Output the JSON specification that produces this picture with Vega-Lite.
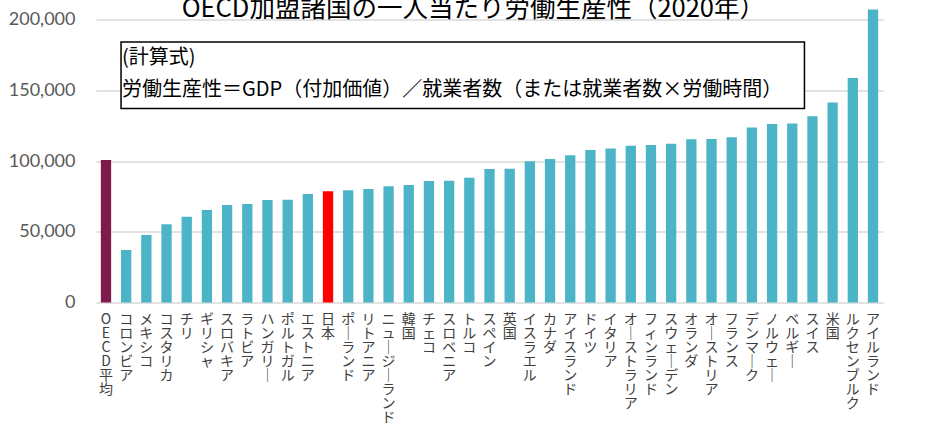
{
  "$schema": "https://vega.github.io/schema/vega-lite/v6.json",
  "autosize": {"type": "none"},
  "width": 787,
  "height": 283,
  "padding": {"left": 96, "top": 19.5, "right": 64, "bottom": 122.5},
  "background": "white",
  "config": {
    "view": {"stroke": null}
  },
  "data": {
    "values": [
      {"国": "OECD平均", "労働生産性": 100700, "区分": "OECD平均"},
      {"国": "コロンビア", "労働生産性": 37100, "区分": "その他"},
      {"国": "メキシコ", "労働生産性": 47700, "区分": "その他"},
      {"国": "コスタリカ", "労働生産性": 55300, "区分": "その他"},
      {"国": "チリ", "労働生産性": 60600, "区分": "その他"},
      {"国": "ギリシャ", "労働生産性": 65400, "区分": "その他"},
      {"国": "スロバキア", "労働生産性": 68900, "区分": "その他"},
      {"国": "ラトビア", "労働生産性": 69600, "区分": "その他"},
      {"国": "ハンガリー", "労働生産性": 72400, "区分": "その他"},
      {"国": "ポルトガル", "労働生産性": 72700, "区分": "その他"},
      {"国": "エストニア", "労働生産性": 76700, "区分": "その他"},
      {"国": "日本", "労働生産性": 78700, "区分": "日本"},
      {"国": "ポーランド", "労働生産性": 79300, "区分": "その他"},
      {"国": "リトアニア", "労働生産性": 80200, "区分": "その他"},
      {"国": "ニュージーランド", "労働生産性": 82100, "区分": "その他"},
      {"国": "韓国", "労働生産性": 83000, "区分": "その他"},
      {"国": "チェコ", "労働生産性": 85900, "区分": "その他"},
      {"国": "スロベニア", "労働生産性": 86100, "区分": "その他"},
      {"国": "トルコ", "労働生産性": 88200, "区分": "その他"},
      {"国": "スペイン", "労働生産性": 94300, "区分": "その他"},
      {"国": "英国", "労働生産性": 94600, "区分": "その他"},
      {"国": "イスラエル", "労働生産性": 99800, "区分": "その他"},
      {"国": "カナダ", "労働生産性": 101400, "区分": "その他"},
      {"国": "アイスランド", "労働生産性": 104000, "区分": "その他"},
      {"国": "ドイツ", "労働生産性": 107700, "区分": "その他"},
      {"国": "イタリア", "労働生産性": 108900, "区分": "その他"},
      {"国": "オーストラリア", "労働生産性": 110800, "区分": "その他"},
      {"国": "フィンランド", "労働生産性": 111300, "区分": "その他"},
      {"国": "スウェーデン", "労働生産性": 112200, "区分": "その他"},
      {"国": "オランダ", "労働生産性": 115300, "区分": "その他"},
      {"国": "オーストリア", "労働生産性": 115500, "区分": "その他"},
      {"国": "フランス", "労働生産性": 116700, "区分": "その他"},
      {"国": "デンマーク", "労働生産性": 123700, "区分": "その他"},
      {"国": "ノルウェー", "労働生産性": 126100, "区分": "その他"},
      {"国": "ベルギー", "労働生産性": 126500, "区分": "その他"},
      {"国": "スイス", "労働生産性": 131700, "区分": "その他"},
      {"国": "米国", "労働生産性": 141300, "区分": "その他"},
      {"国": "ルクセンブルク", "労働生産性": 158700, "区分": "その他"},
      {"国": "アイルランド", "労働生産性": 207000, "区分": "その他"}
    ]
  },
  "encoding": {
    "x": {
      "field": "国",
      "type": "nominal",
      "sort": null,
      "scale": {"paddingInner": 0.49, "paddingOuter": 0.24},
      "axis": {
        "title": null,
        "domain": false,
        "ticks": false,
        "labelAngle": 0,
        "labelAlign": "center",
        "labelBaseline": "top",
        "labelPadding": 10,
        "labelFont": "Noto Sans CJK JP",
        "labelFontSize": 14,
        "labelLineHeight": 14,
        "labelColor": "#404040",
        "labelOverlap": false,
        "labelBound": false,
        "labelLimit": 0,
        "labelExpr": "split(replace(datum.label, regexp('ー','g'), '｜'), '')"
      }
    },
    "y": {
      "type": "quantitative",
      "scale": {"domain": [0, 200000], "nice": false},
      "axis": {
        "title": null,
        "values": [0, 50000, 100000, 150000, 200000],
        "format": ",d",
        "domain": false,
        "ticks": false,
        "labelPadding": 21,
        "labelFont": "Lato",
        "labelFontSize": 18,
        "labelColor": "#595959",
        "gridColor": "#D9D9D9",
        "gridWidth": 1.5
      }
    }
  },
  "layer": [
    {
      "mark": {"type": "bar"},
      "encoding": {
        "y": {"field": "労働生産性", "type": "quantitative"},
        "color": {
          "field": "区分",
          "type": "nominal",
          "scale": {"domain": ["OECD平均", "日本", "その他"], "range": ["#7E1B4A", "#FF0000", "#4BB4C6"]},
          "legend": null
        }
      }
    },
    {
      "data": {"values": [{"note": "タイトル"}]},
      "mark": {
        "type": "text",
        "text": "OECD加盟諸国の一人当たり労働生産性（2020年）",
        "align": "center",
        "baseline": "alphabetic",
        "dx": 4,
        "font": "Noto Sans CJK JP",
        "fontSize": 25.5,
        "color": "#000000"
      },
      "encoding": {
        "x": {"datum": "トルコ", "type": "nominal"},
        "y": {"datum": 201500, "type": "quantitative"}
      }
    },
    {
      "data": {"values": [{"note": "計算式"}]},
      "mark": {"type": "rect", "fill": "white", "stroke": "#000000", "strokeWidth": 1.5, "x2Offset": -8},
      "encoding": {
        "x": {"datum": "コロンビア", "type": "nominal", "bandPosition": 0},
        "x2": {"datum": "スイス"},
        "y": {"datum": 184100, "type": "quantitative"},
        "y2": {"datum": 137100}
      }
    },
    {
      "data": {"values": [{"note": "計算式"}]},
      "mark": {
        "type": "text",
        "text": ["(計算式)", "労働生産性＝GDP（付加価値）／就業者数（または就業者数×労働時間）"],
        "align": "left",
        "baseline": "middle",
        "lineHeight": 32,
        "dx": 1,
        "font": "Noto Sans CJK JP",
        "fontSize": 20,
        "color": "#000000"
      },
      "encoding": {
        "x": {"datum": "コロンビア", "type": "nominal", "bandPosition": 0},
        "y": {"datum": 172800, "type": "quantitative"}
      }
    }
  ]
}
